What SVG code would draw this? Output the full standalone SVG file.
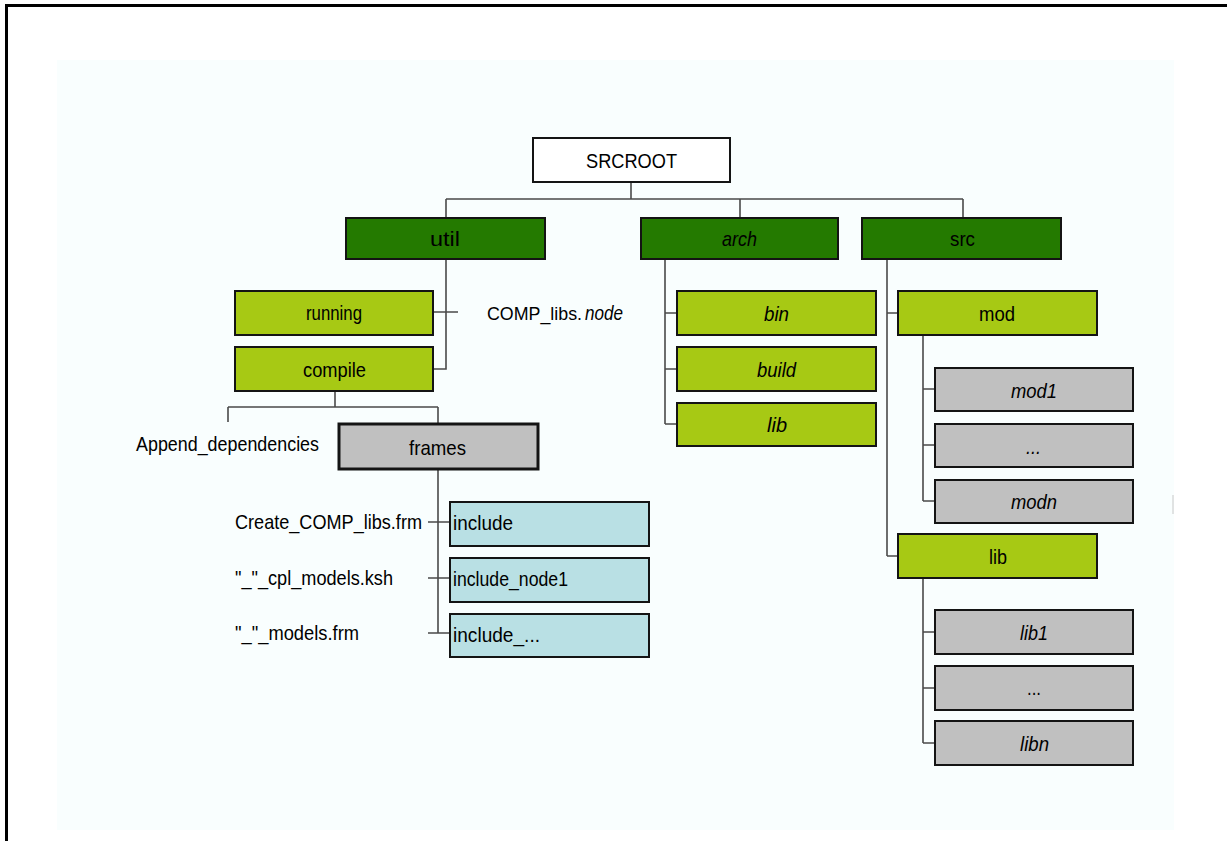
<svg xmlns="http://www.w3.org/2000/svg" width="1227" height="841" viewBox="0 0 1227 841">
<style>
.b{stroke:#141414;stroke-width:2}
.root{fill:#ffffff}
.dg{fill:#247a00}
.lg{fill:#a7c914}
.gr{fill:#c0c0c0}
.bl{fill:#b9e0e4}
.t{font-family:"Liberation Sans",Arial,sans-serif;font-size:21px;fill:#000}
.i{font-style:italic}
.c{fill:none;stroke:#4a4a4a;stroke-width:1.6}
</style>
<rect width="1227" height="841" fill="#ffffff"/>
<rect x="57" y="60" width="1117" height="770" fill="#f9fefe"/>
<path d="M6.5 841V5.5H1227" fill="none" stroke="#000" stroke-width="3"/>
<line x1="1173" y1="495" x2="1173" y2="514" stroke="#c8c8c8" stroke-width="1"/>

<g id="connectors" class="c">
<path d="M631 182V199M446 199H963M446 199V218M740 199V218M963 199V218"/>
<path d="M446 259V369H433M433 312H458"/>
<path d="M335 391V407M228 407H438M228 407V422M438 407V424"/>
<path d="M438 469V633M428 522H450M428 578H450M428 633H450"/>
<path d="M665 259V424M665 313H677M665 369H677M665 424H677"/>
<path d="M887 259V556M887 313H898M887 556H898"/>
<path d="M923 335V501M923 389H935M923 445H935M923 501H935"/>
<path d="M923 578V743M923 632H935M923 688H935M923 743H935"/>
</g>

<g id="srcroot"><rect class="b root" x="533" y="138" width="197" height="44"/><text class="t" x="586" y="168" textLength="91" lengthAdjust="spacingAndGlyphs">SRCROOT</text></g>
<g id="util"><rect class="b dg" x="346" y="218" width="199" height="41"/><text class="t" x="430" y="246" textLength="30" lengthAdjust="spacingAndGlyphs">util</text></g>
<g id="arch"><rect class="b dg" x="641" y="218" width="197" height="41"/><text class="t i" x="722" y="246" textLength="35" lengthAdjust="spacingAndGlyphs">arch</text></g>
<g id="src"><rect class="b dg" x="862" y="218" width="199" height="41"/><text class="t" x="950" y="246" textLength="25" lengthAdjust="spacingAndGlyphs">src</text></g>

<g id="running"><rect class="b lg" x="235" y="291" width="198" height="44"/><text class="t" x="306" y="320" textLength="56" lengthAdjust="spacingAndGlyphs">running</text></g>
<g id="compile"><rect class="b lg" x="235" y="347" width="198" height="44"/><text class="t" x="303" y="377" textLength="63" lengthAdjust="spacingAndGlyphs">compile</text></g>
<g id="comp-libs-node"><text class="t" x="487" y="320" style="font-size:19px" textLength="95" lengthAdjust="spacingAndGlyphs">COMP_libs.</text><text class="t i" x="585" y="320" textLength="38" lengthAdjust="spacingAndGlyphs">node</text></g>
<g id="append-dependencies"><text class="t" x="136" y="451" textLength="183" lengthAdjust="spacingAndGlyphs">Append_dependencies</text></g>
<g id="frames"><rect x="339" y="424" width="199" height="45" fill="#c0c0c0" stroke="#141414" stroke-width="3"/><text class="t" x="409" y="455" textLength="57" lengthAdjust="spacingAndGlyphs">frames</text></g>

<g id="create-comp-libs"><text class="t" x="235" y="529" textLength="187" lengthAdjust="spacingAndGlyphs">Create_COMP_libs.frm</text></g>
<g id="cpl-models"><text class="t" x="235" y="585" textLength="158" lengthAdjust="spacingAndGlyphs">"_"_cpl_models.ksh</text></g>
<g id="models-frm"><text class="t" x="235" y="640" textLength="124" lengthAdjust="spacingAndGlyphs">"_"_models.frm</text></g>
<g id="include"><rect class="b bl" x="450" y="502" width="199" height="44"/><text class="t" x="453" y="530" textLength="60" lengthAdjust="spacingAndGlyphs">include</text></g>
<g id="include-node1"><rect class="b bl" x="450" y="558" width="199" height="44"/><text class="t" x="453" y="586" textLength="115" lengthAdjust="spacingAndGlyphs">include_node1</text></g>
<g id="include-etc"><rect class="b bl" x="450" y="614" width="199" height="43"/><text class="t" x="453" y="642" textLength="87" lengthAdjust="spacingAndGlyphs">include_...</text></g>

<g id="bin"><rect class="b lg" x="677" y="291" width="199" height="44"/><text class="t i" x="764" y="321" textLength="25" lengthAdjust="spacingAndGlyphs">bin</text></g>
<g id="build"><rect class="b lg" x="677" y="347" width="199" height="44"/><text class="t i" x="757" y="377" textLength="39" lengthAdjust="spacingAndGlyphs">build</text></g>
<g id="arch-lib"><rect class="b lg" x="677" y="403" width="199" height="43"/><text class="t i" x="767" y="432" textLength="20" lengthAdjust="spacingAndGlyphs">lib</text></g>

<g id="mod"><rect class="b lg" x="898" y="291" width="199" height="44"/><text class="t" x="979" y="321" textLength="36" lengthAdjust="spacingAndGlyphs">mod</text></g>
<g id="mod1"><rect class="b gr" x="935" y="368" width="198" height="43"/><text class="t i" x="1011" y="398" textLength="46" lengthAdjust="spacingAndGlyphs">mod1</text></g>
<g id="mod-etc"><rect class="b gr" x="935" y="424" width="198" height="43"/><text class="t i" x="1026" y="454" textLength="15" lengthAdjust="spacingAndGlyphs">...</text></g>
<g id="modn"><rect class="b gr" x="935" y="480" width="198" height="43"/><text class="t i" x="1011" y="509" textLength="46" lengthAdjust="spacingAndGlyphs">modn</text></g>

<g id="src-lib"><rect class="b lg" x="898" y="534" width="199" height="44"/><text class="t" x="989" y="564" textLength="18" lengthAdjust="spacingAndGlyphs">lib</text></g>
<g id="lib1"><rect class="b gr" x="935" y="610" width="198" height="44"/><text class="t i" x="1020" y="640" textLength="28" lengthAdjust="spacingAndGlyphs">lib1</text></g>
<g id="lib-etc"><rect class="b gr" x="935" y="666" width="198" height="44"/><text class="t" x="1027" y="695" textLength="14" lengthAdjust="spacingAndGlyphs">...</text></g>
<g id="libn"><rect class="b gr" x="935" y="721" width="198" height="44"/><text class="t i" x="1020" y="751" textLength="29" lengthAdjust="spacingAndGlyphs">libn</text></g>
</svg>
